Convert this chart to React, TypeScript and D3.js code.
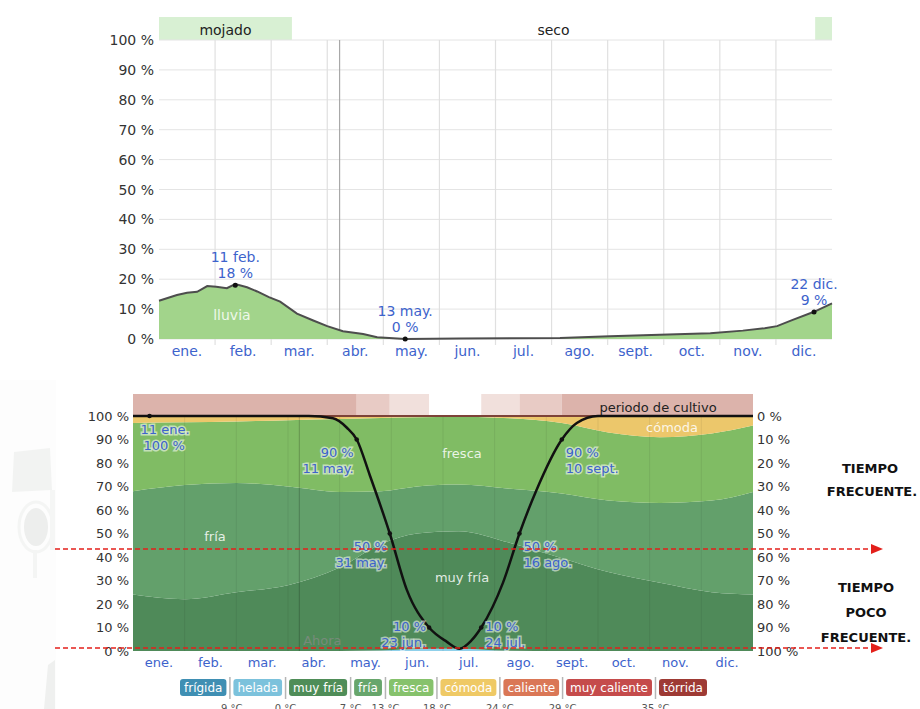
import React from 'react';
import * as d3 from 'd3';

const MONTHS = ['ene.', 'feb.', 'mar.', 'abr.', 'may.', 'jun.', 'jul.', 'ago.', 'sept.', 'oct.', 'nov.', 'dic.'];
const PCT_TICKS = [0, 10, 20, 30, 40, 50, 60, 70, 80, 90, 100];
const NOW_MONTH = 3.22;

// Top chart: probability of rain (lluvia)
const rainMonth = [0, 0.32, 0.5, 0.68, 0.86, 1.02, 1.21, 1.36, 1.57, 1.75, 1.96, 2.16, 2.46, 2.75, 3.0, 3.28, 3.64, 3.89, 4.39, 5.37, 7.15, 8.04, 8.93, 9.83, 10.41, 10.8, 11.02, 11.3, 11.68, 12];
const rainPct = [12.8, 14.7, 15.5, 15.8, 17.7, 17.5, 17.0, 18.4, 17.3, 15.9, 14.0, 12.5, 8.5, 6.2, 4.3, 2.6, 1.7, 0.6, 0.0, 0.2, 0.3, 0.9, 1.4, 1.9, 2.8, 3.6, 4.3, 6.4, 9.1, 11.9];
const rainAnnMonth = [1.36, 4.39, 11.68];
const rainAnnValue = [18, 0, 9];
const rainAnnDate = ['11 feb.', '13 may.', '22 dic.'];

// Season bands (top)
const seasonName = ['mojado', 'seco', ''];
const seasonStart = [0, 2.37, 11.7];
const seasonEnd = [2.37, 11.7, 12];
const seasonWet = [true, false, true];

// Bottom chart: temperature categories (percent of time)
const tempMonth = [0, 1, 2, 3, 4, 4.8, 5.5, 6.3, 7.3, 8.3, 9.2, 10.2, 11.2, 12];
const heladaPct = [0, 0, 0, 0, 0, 0.2, 0.8, 1.0, 0.1, 0, 0, 0, 0, 0];
const muyFriaPct = [24, 22, 25, 28, 35.5, 45.3, 49.2, 50, 45.9, 39.5, 33.6, 29, 25, 24];
const friaPct = [44, 48.6, 46.5, 42, 32.2, 22.5, 20, 19.8, 23, 27.5, 30.4, 34, 39, 43.7];
const frescaPct = [29, 26.7, 26.2, 28.2, 31, 31.2, 29.5, 28.9, 30, 30, 29, 28, 28.6, 28.3];
const comodaPct = [3, 2.7, 2.3, 1.8, 1.3, 0.8, 0.5, 0.3, 1, 3, 7, 9, 7.4, 4];

// Growing season probability curve
const growMonth = [0, 0.32, 3.4, 3.87, 4.14, 4.33, 4.58, 4.97, 5.3, 5.73, 6.07, 6.32, 6.55, 6.74, 7.16, 7.48, 7.8, 8.3, 8.59, 9.0, 12];
const growPct = [100, 100, 100, 99, 95, 90, 75, 50, 26, 10, 4, 1, 4.5, 10, 29, 50, 68, 90, 97, 100, 100];
const growAnnMonth = [0.32, 4.33, 4.97, 5.73, 6.74, 7.48, 8.3];
const growAnnValue = [100, 90, 50, 10, 10, 50, 90];
const growAnnDate = ['11 ene.', '11 may.', '31 may.', '23 jun.', '24 jul.', '16 ago.', '10 sept.'];

// Growing period shading segments
const cultivoStart = [0, 4.33, 4.97, 5.73, 6.74, 7.48, 8.3];
const cultivoEnd = [4.33, 4.97, 5.73, 6.74, 7.48, 8.3, 12];
const cultivoShade = ['#dcb3ab', '#e8cbc5', '#f1e0dc', 'none', '#f1e0dc', '#e8cbc5', '#dcb3ab'];

// Legend
const legendNames = ['frígida', 'helada', 'muy fría', 'fría', 'fresca', 'cómoda', 'caliente', 'muy caliente', 'tórrida'];
const legendColors = ['#3f8fb3', '#7cc2dc', '#4f8d58', '#67a66c', '#86c26c', '#efc965', '#da7756', '#c54b4b', '#9e3a34'];
const legendThresholds = ['-9 °C', '0 °C', '7 °C', '13 °C', '18 °C', '24 °C', '29 °C', '35 °C'];

const FONT = 'DejaVu Sans';
const BLUE = '#3d63cc';

function measure(text: string, font: string): number {
  const c = document.createElement('canvas').getContext('2d');
  if (!c) return text.length * 7;
  c.font = font;
  return c.measureText(text).width;
}

export default function App() {
  const xT = d3.scaleLinear().domain([0, 12]).range([159, 832]);
  const yT = d3.scaleLinear().domain([0, 100]).range([339, 40]);
  const xB = d3.scaleLinear().domain([0, 12]).range([133, 753]);
  const yB = d3.scaleLinear().domain([0, 100]).range([651, 416]);

  const rainPts: [number, number][] = rainMonth.map((m, i) => [m, rainPct[i]]);
  const rainArea = d3.area<[number, number]>().x(d => xT(d[0])).y0(yT(0)).y1(d => yT(d[1]))(rainPts) || '';
  const rainLine = d3.line<[number, number]>().x(d => xT(d[0])).y(d => yT(d[1]))(rainPts) || '';

  const rows = tempMonth.map((m, i) => ({
    m,
    helada: heladaPct[i],
    muyFria: muyFriaPct[i],
    fria: friaPct[i],
    fresca: frescaPct[i],
    comoda: comodaPct[i],
  }));
  const keys = ['helada', 'muyFria', 'fria', 'fresca', 'comoda'];
  const bandColor: Record<string, string> = {
    helada: '#8fd0ea',
    muyFria: '#4f8a59',
    fria: '#63a06b',
    fresca: '#80bc64',
    comoda: '#ecc76b',
  };
  const stacked = d3.stack<any>().keys(keys)(rows as any);
  const bandArea = d3.area<any>()
    .x(d => xB(d.data.m))
    .y0(d => yB(d[0]))
    .y1(d => yB(d[1]))
    .curve(d3.curveMonotoneX);

  const growPts: [number, number][] = growMonth.map((m, i) => [m, growPct[i]]);
  const growLine = d3.line<[number, number]>().x(d => xB(d[0])).y(d => yB(d[1])).curve(d3.curveMonotoneX)(growPts) || '';

  // legend layout
  const legFont = `12px "${FONT}"`;
  let cx = 180;
  const legendItems = legendNames.map((n, i) => {
    const w = measure(n, legFont) + 8;
    const item = { x: cx, w, name: n, color: legendColors[i] };
    cx += w + 7;
    return item;
  });

  const haloStyle: React.CSSProperties = { paintOrder: 'stroke' as any };

  return (
    <svg width={920} height={709} style={{ position: 'absolute', left: 0, top: 0, background: '#fff' }} fontFamily={FONT}>
      {/* faint watermark on the left */}
      <g opacity={0.55}>
        <rect x={0} y={380} width={56} height={329} fill="#fcfcfc" />
        <polygon points="14,452 50,448 52,490 12,492" fill="#e9ebe9" />
        <ellipse cx={36} cy={527} rx={12} ry={19} fill="#dfe1df" />
        <ellipse cx={36} cy={527} rx={17} ry={25} fill="none" stroke="#eceeec" strokeWidth={3} />
        <rect x={33} y={550} width={4} height={28} fill="#eceeec" />
        <rect x={50} y={490} width={5} height={60} fill="#eef0ee" />
        <polygon points="48,665 55,660 55,709 44,709" fill="#e3e5e3" />
      </g>

      {/* ============ TOP CHART ============ */}
      {seasonName.map((n, i) => (
        <g key={'s' + i}>
          {seasonWet[i] && (
            <rect x={xT(seasonStart[i])} y={17} width={xT(seasonEnd[i]) - xT(seasonStart[i])} height={23} fill="#d8f0d3" />
          )}
          {n && (
            <text x={(xT(seasonStart[i]) + xT(seasonEnd[i])) / 2} y={30} fontSize={14} fill="#222" textAnchor="middle" dominantBaseline="central">{n}</text>
          )}
        </g>
      ))}
      {PCT_TICKS.map(t => (
        <line key={'hg' + t} x1={xT(0)} x2={xT(12)} y1={yT(t)} y2={yT(t)} stroke="#e4e4e4" strokeWidth={1} />
      ))}
      {d3.range(1, 12).map(m => (
        <line key={'vg' + m} x1={xT(m)} x2={xT(m)} y1={yT(100)} y2={yT(0) + 6} stroke="#e0e0e0" strokeWidth={1.2} />
      ))}
      <line x1={xT(NOW_MONTH)} x2={xT(NOW_MONTH)} y1={yT(100)} y2={yT(0)} stroke="#a8a8a8" strokeWidth={1.2} />
      <path d={rainArea} fill="#a2d48b" />
      <path d={rainLine} fill="none" stroke="#4d4d4d" strokeWidth={2} />
      <text x={xT(1.3)} y={yT(8)} fontSize={14} fill="#eef8e9" textAnchor="middle" dominantBaseline="central">lluvia</text>
      {PCT_TICKS.map(t => (
        <text key={'yl' + t} x={154} y={yT(t)} fontSize={14} fill="#333" textAnchor="end" dominantBaseline="central">{t} %</text>
      ))}
      {MONTHS.map((m, i) => (
        <text key={'ml' + i} x={xT(i + 0.5)} y={351} fontSize={14} fill={BLUE} textAnchor="middle" dominantBaseline="central">{m}</text>
      ))}
      {rainAnnMonth.map((m, i) => (
        <g key={'ra' + i}>
          <circle cx={xT(m)} cy={yT(rainAnnValue[i])} r={2.5} fill="#111" />
          <text x={xT(m)} y={yT(rainAnnValue[i]) - 28} fontSize={14} fill={BLUE} textAnchor="middle" dominantBaseline="central">{rainAnnDate[i]}</text>
          <text x={xT(m)} y={yT(rainAnnValue[i]) - 12} fontSize={14} fill={BLUE} textAnchor="middle" dominantBaseline="central">{rainAnnValue[i]} %</text>
        </g>
      ))}

      {/* ============ BOTTOM CHART ============ */}
      {cultivoStart.map((s, i) => (
        cultivoShade[i] !== 'none' ? (
          <rect key={'cu' + i} x={xB(s)} y={394} width={xB(cultivoEnd[i]) - xB(s)} height={yB(100) - 394} fill={cultivoShade[i]} />
        ) : null
      ))}
      <text x={658} y={407} fontSize={13} fill="#222" textAnchor="middle" dominantBaseline="central">periodo de cultivo</text>
      {stacked.map(s => (
        <path key={s.key} d={bandArea(s as any) || ''} fill={bandColor[s.key]} />
      ))}
      {d3.range(1, 12).map(m => (
        <line key={'bvg' + m} x1={xB(m)} x2={xB(m)} y1={yB(100)} y2={yB(0)} stroke="#000" strokeOpacity={0.07} strokeWidth={1} />
      ))}
      <line x1={xB(NOW_MONTH)} x2={xB(NOW_MONTH)} y1={yB(100)} y2={yB(0)} stroke="#000" strokeOpacity={0.18} strokeWidth={1.2} />
      <text x={xB(NOW_MONTH) + 23} y={640} fontSize={13} fill="#8a8a8a" fillOpacity={0.7} textAnchor="middle" dominantBaseline="central">Ahora</text>
      <line x1={xB(0)} x2={xB(12)} y1={yB(100)} y2={yB(100)} stroke="#7d4338" strokeWidth={2} />

      <text x={215} y={536} fontSize={13} fill="#fff" fillOpacity={0.85} textAnchor="middle" dominantBaseline="central">fría</text>
      <text x={462} y={453} fontSize={13} fill="#fff" fillOpacity={0.85} textAnchor="middle" dominantBaseline="central">fresca</text>
      <text x={462} y={577} fontSize={13} fill="#fff" fillOpacity={0.85} textAnchor="middle" dominantBaseline="central">muy fría</text>
      <text x={672} y={427} fontSize={13} fill="#fff" fillOpacity={0.85} textAnchor="middle" dominantBaseline="central">cómoda</text>

      <path d={growLine} fill="none" stroke="#111" strokeWidth={2.5} />
      {growAnnMonth.map((m, i) => {
        const x = xB(m);
        const y = yB(growAnnValue[i]);
        const first = i === 0;
        const left = i >= 1 && i <= 3;
        const low = growAnnValue[i] <= 10;
        const anchor = first ? 'start' : left ? 'end' : 'start';
        const tx = first ? x - 9 : left ? x - 3 : x + 4;
        const l1 = first ? growAnnDate[i] : `${growAnnValue[i]} %`;
        const l2 = first ? `${growAnnValue[i]} %` : growAnnDate[i];
        const y1 = low ? y - 1 : y + 13;
        return (
          <g key={'ga' + i}>
            <circle cx={x} cy={y} r={2.3} fill="#111" />
            <text x={tx} y={y1} fontSize={13} fill={BLUE} stroke="#fff" strokeOpacity={0.55} strokeWidth={3} style={haloStyle} textAnchor={anchor} dominantBaseline="central">{l1}</text>
            <text x={first ? tx + 3 : tx} y={y1 + 16} fontSize={13} fill={BLUE} stroke="#fff" strokeOpacity={0.55} strokeWidth={3} style={haloStyle} textAnchor={anchor} dominantBaseline="central">{l2}</text>
          </g>
        );
      })}

      {PCT_TICKS.map(t => (
        <text key={'byl' + t} x={129} y={yB(t)} fontSize={13} fill="#333" textAnchor="end" dominantBaseline="central">{t} %</text>
      ))}
      {PCT_TICKS.map(t => (
        <text key={'byr' + t} x={757} y={yB(100 - t)} fontSize={13} fill="#333" textAnchor="start" dominantBaseline="central">{t} %</text>
      ))}
      {MONTHS.map((m, i) => (
        <text key={'bml' + i} x={xB(i + 0.5)} y={662} fontSize={13} fill={BLUE} textAnchor="middle" dominantBaseline="central">{m}</text>
      ))}

      {/* red dashed markers */}
      {[549, 648].map(y => (
        <g key={'rd' + y}>
          <line x1={55} x2={871} y1={y} y2={y} stroke="#e3201b" strokeWidth={1.4} strokeDasharray="5 3" />
          <polygon points={`871,${y - 5} 883,${y} 871,${y + 5}`} fill="#e3201b" />
        </g>
      ))}
      <g fontWeight="bold" fontSize={13} fill="#111" textAnchor="middle">
        <text x={870} y={468} dominantBaseline="central">TIEMPO</text>
        <text x={872} y={491} dominantBaseline="central">FRECUENTE.</text>
        <text x={866} y={587} dominantBaseline="central">TIEMPO</text>
        <text x={866} y={612} dominantBaseline="central">POCO</text>
        <text x={866} y={637} dominantBaseline="central">FRECUENTE.</text>
      </g>

      {/* legend */}
      {legendItems.map((it, i) => (
        <g key={'lg' + i}>
          <rect x={it.x} y={679} width={it.w} height={17} rx={3} fill={it.color} />
          <text x={it.x + it.w / 2} y={687.5} fontSize={12} fill="#fff" textAnchor="middle" dominantBaseline="central">{it.name}</text>
          {i < legendItems.length - 1 && (
            <>
              <line x1={it.x + it.w + 3.5} x2={it.x + it.w + 3.5} y1={677} y2={699} stroke="#b5b5b5" strokeWidth={1.5} />
              <text x={it.x + it.w + 3.5} y={712} fontSize={10} fill="#555" textAnchor="middle">{legendThresholds[i]}</text>
            </>
          )}
        </g>
      ))}
    </svg>
  );
}
